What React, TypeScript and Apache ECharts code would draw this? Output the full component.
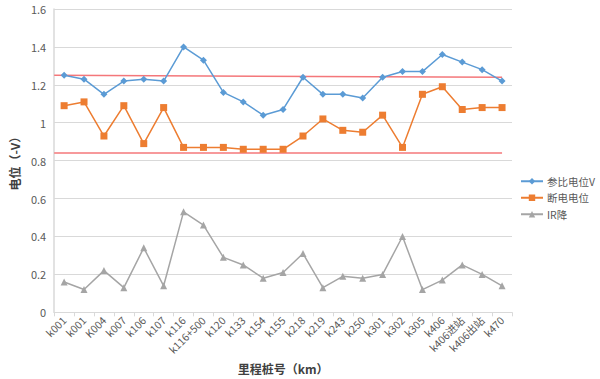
import React, { useEffect, useRef } from "react";
import * as echarts from "echarts";

const categories = ["k001", "k001", "K004", "k007", "k106", "k107", "k116", "k116+500", "k120", "k133", "k154", "k155", "k218", "k219", "k243", "k250", "k301", "k302", "k305", "k406", "k406进站", "k406出站", "k470"];
const refPotential = [1.25, 1.23, 1.15, 1.22, 1.23, 1.22, 1.40, 1.33, 1.16, 1.11, 1.04, 1.07, 1.24, 1.15, 1.15, 1.13, 1.24, 1.27, 1.27, 1.36, 1.32, 1.28, 1.22];
const offPotential = [1.09, 1.11, 0.93, 1.09, 0.89, 1.08, 0.87, 0.87, 0.87, 0.86, 0.86, 0.86, 0.93, 1.02, 0.96, 0.95, 1.04, 0.87, 1.15, 1.19, 1.07, 1.08, 1.08];
const irDrop = [0.16, 0.12, 0.22, 0.13, 0.34, 0.14, 0.53, 0.46, 0.29, 0.25, 0.18, 0.21, 0.31, 0.13, 0.19, 0.18, 0.20, 0.40, 0.12, 0.17, 0.25, 0.20, 0.14];
const upperRedLine = [[0, 1.25], [22.5, 1.24]];
const lowerRedLine = [[0, 0.84], [22.5, 0.84]];
const seriesNames = ["参比电位V", "断电电位", "IR降"];

export default function App() {
  const ref = useRef<HTMLDivElement>(null);
  useEffect(() => {
    document.body.style.margin = "0";
    const chart = echarts.init(ref.current!, null, { renderer: "svg" });
    const textColor = "#595959";
    const font = "'Noto Sans CJK SC', 'Noto Sans', sans-serif";
    chart.setOption({
      animation: false,
      textStyle: { fontFamily: font },
      grid: { left: 44, right: 88, top: 9, bottom: 61 },
      legend: {
        data: seriesNames,
        orient: "vertical",
        left: 520,
        top: 176,
        padding: 0,
        itemWidth: 22,
        itemHeight: 8,
        itemGap: 6,
        textStyle: { color: textColor, fontSize: 10.5, fontFamily: font, padding: [0, 0, 0, -1] },
      },
      xAxis: [
        {
          type: "category",
          data: categories,
          boundaryGap: true,
          name: "里程桩号（km）",
          nameLocation: "middle",
          nameGap: 42,
          nameTextStyle: { color: "#404040", fontSize: 12, fontWeight: "bold", fontFamily: font },
          axisLine: { lineStyle: { color: "#d9d9d9", width: 1 } },
          axisTick: { show: true, alignWithLabel: false, length: 4, lineStyle: { color: "#d9d9d9" } },
          axisLabel: { rotate: 45, color: textColor, fontSize: 10.5, interval: 0, margin: 6, fontFamily: font },
        },
        {
          type: "value",
          min: 0,
          max: 23,
          show: false,
        },
      ],
      yAxis: {
        type: "value",
        min: 0,
        max: 1.6,
        interval: 0.2,
        name: "电位（-V）",
        nameLocation: "middle",
        nameGap: 33,
        nameTextStyle: { color: "#404040", fontSize: 12, fontWeight: "bold", fontFamily: font },
        axisLine: { show: true, lineStyle: { color: "#d9d9d9", width: 1.5 } },
        axisTick: { show: false },
        splitLine: { lineStyle: { color: "#d9d9d9", width: 1.2 } },
        axisLabel: {
          color: textColor,
          fontSize: 11,
          margin: 8,
          fontFamily: font,
          formatter: (v: number) => (Math.round(v * 10) / 10).toString(),
        },
      },
      series: [
        {
          name: "upper",
          type: "line",
          xAxisIndex: 1,
          data: upperRedLine,
          symbol: "none",
          lineStyle: { color: "#f4777a", width: 1.5 },
          silent: true,
          z: 1,
        },
        {
          name: "lower",
          type: "line",
          xAxisIndex: 1,
          data: lowerRedLine,
          symbol: "none",
          lineStyle: { color: "#f4777a", width: 1.5 },
          silent: true,
          z: 1,
        },
        {
          name: seriesNames[0],
          type: "line",
          data: refPotential,
          symbol: "diamond",
          symbolSize: 7,
          itemStyle: { color: "#5b9bd5" },
          lineStyle: { color: "#5b9bd5", width: 1.5 },
          z: 3,
        },
        {
          name: seriesNames[1],
          type: "line",
          data: offPotential,
          symbol: "rect",
          symbolSize: 7,
          itemStyle: { color: "#ed7d31" },
          lineStyle: { color: "#ed7d31", width: 1.5 },
          z: 3,
        },
        {
          name: seriesNames[2],
          type: "line",
          data: irDrop,
          symbol: "triangle",
          symbolSize: 7,
          itemStyle: { color: "#a5a5a5" },
          lineStyle: { color: "#a5a5a5", width: 1.5 },
          z: 3,
        },
      ],
    });
    return () => chart.dispose();
  }, []);
  return <div ref={ref} style={{ width: 600, height: 379, background: "#fff" }} />;
}
